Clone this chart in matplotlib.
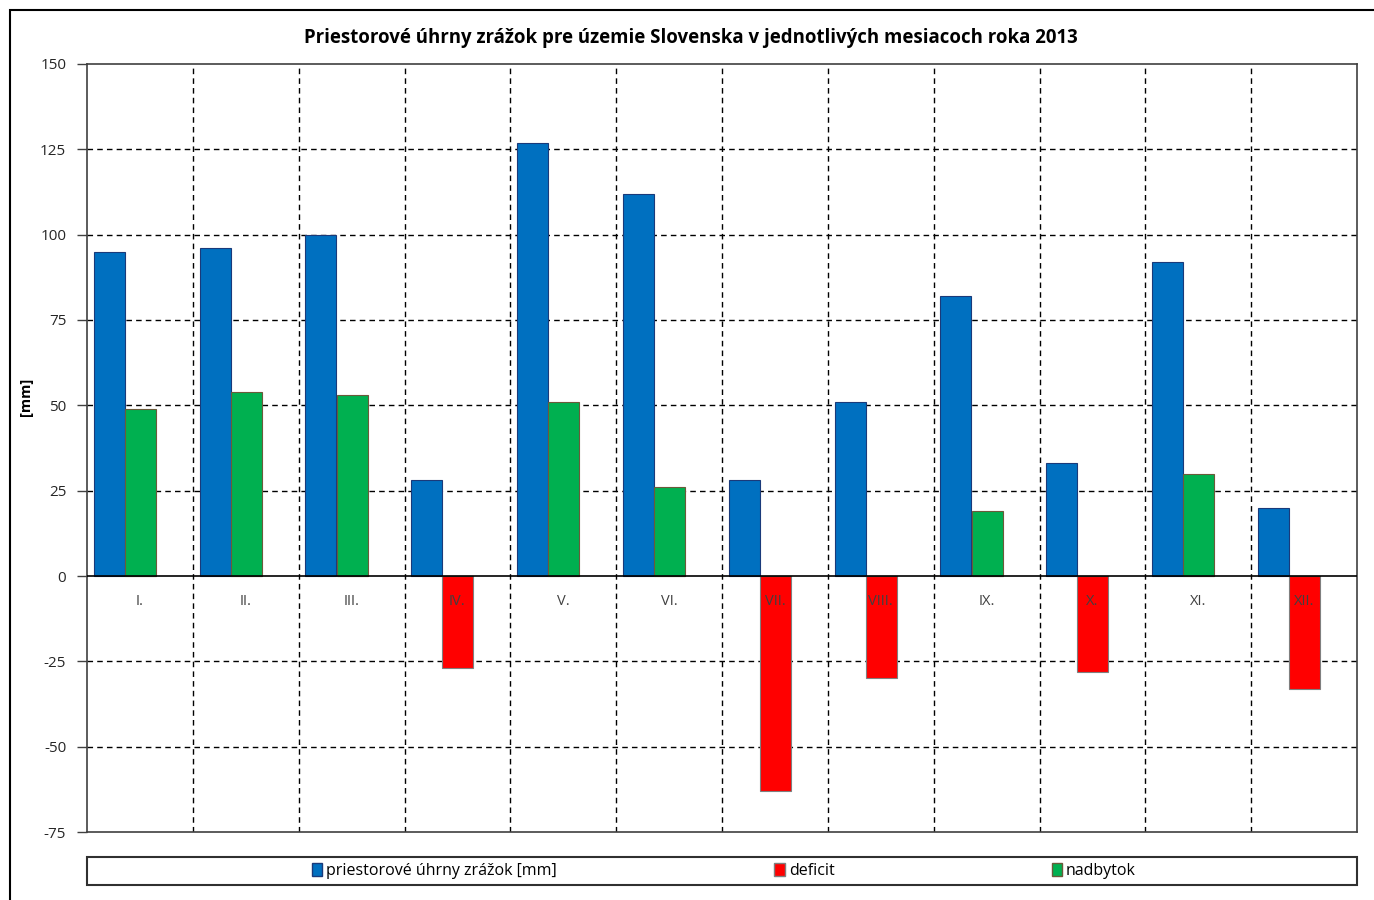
import matplotlib
matplotlib.use("Agg")
import matplotlib.pyplot as plt
from matplotlib.patches import Rectangle, Patch
import numpy as np

months = ["I.", "II.", "III.", "IV.", "V.", "VI.", "VII.", "VIII.", "IX.", "X.", "XI.", "XII."]
uhrny = [95, 96, 100, 28, 127, 112, 28, 51, 82, 33, 92, 20]
deficit = [0, 0, 0, -27, 0, 0, -63, -30, 0, -28, 0, -33]
nadbytok = [49, 54, 53, 0, 51, 26, 0, 0, 19, 0, 30, 0]
yticks = [-75, -50, -25, 0, 25, 50, 75, 100, 125, 150]

title = "Priestorové úhrny zrážok pre územie Slovenska v jednotlivých mesiacoch roka 2013"
ylabel = "[mm]"
legend_labels = ["priestorové úhrny zrážok [mm]", "deficit", "nadbytok"]

c_blue, c_red, c_green = "#0070C0", "#FF0000", "#00B050"

plt.rcParams['font.family'] = ['Open Sans', 'DejaVu Sans']

W, H = 1374, 900
fig = plt.figure(figsize=(W / 100, H / 100), dpi=100)
ax = fig.add_axes([87 / W, 1 - 832 / H, (1357 - 87) / W, (832 - 64) / H])

x = np.arange(len(months))
bw = 0.293
ax.bar(x - 0.29, uhrny, width=bw, align="center", color=c_blue, edgecolor="#1a3a7a", linewidth=0.8, zorder=3)
ax.bar(x + 0.005, deficit, width=bw, align="center", color=c_red, edgecolor="#7f7f7f", linewidth=0.8, zorder=3)
ax.bar(x + 0.005, nadbytok, width=bw, align="center", color=c_green, edgecolor="#6b5a3a", linewidth=0.8, zorder=3)

ax.set_xlim(-0.5, len(months) - 0.5)
ax.set_ylim(-75, 150)
ax.set_yticks(yticks)
ax.set_yticklabels([str(v) for v in yticks], fontsize=11, color="#262626")
ax.tick_params(axis="y", direction="out", length=7, width=1, color="#404040", pad=8)
ax.set_xticks([])

# grid
for v in yticks:
    if v not in (0, -75, 150):
        ax.axhline(v, color="black", lw=1, ls=(0, (4, 3)), zorder=1)
for b in np.arange(0.5, len(months) - 0.5, 1):
    ax.axvline(b, color="black", lw=1, ls=(0, (4, 3)), zorder=1)
ax.axhline(0, color="black", lw=1.2, zorder=4)

for s in ax.spines.values():
    s.set_color("#404040")
    s.set_linewidth(1.2)

# category labels
for i, m in enumerate(months):
    ax.text(i, -7.4, m, ha="center", va="center", fontsize=10.5, color="#404040", zorder=5)

ax.set_ylabel(ylabel, fontsize=10.5, fontweight="bold")
ax.yaxis.set_label_coords(-(87 - 33) / (1357 - 87), (832 - 397) / (832 - 64))

fig.text(691 / W, 1 - 38 / H, title, ha="center", va="center", fontsize=13.4, fontweight="bold", color="black")

# outer frame
fig.add_artist(Rectangle((10 / W, -0.05), 1.2, 1 - 10 / H + 0.05, transform=fig.transFigure,
                         fill=False, edgecolor="black", lw=1.5))
# legend box
fig.add_artist(Rectangle((87 / W, 1 - 885 / H), (1357 - 87) / W, 28 / H, transform=fig.transFigure,
                         fill=False, edgecolor="#303030", lw=1.5))
handles = [Patch(facecolor=c_blue, edgecolor="#1a3a7a"),
           Patch(facecolor=c_red, edgecolor="#7f7f7f"),
           Patch(facecolor=c_green, edgecolor="#6b5a3a")]
fig.legend(handles, legend_labels, loc="center", bbox_to_anchor=(724 / W, 1 - 871 / H), ncol=3,
           frameon=False, fontsize=11.5, handlelength=0.65, handleheight=0.85, handletextpad=0.25,
           columnspacing=13.6, borderpad=0)

fig.savefig("out.png", dpi=100)
